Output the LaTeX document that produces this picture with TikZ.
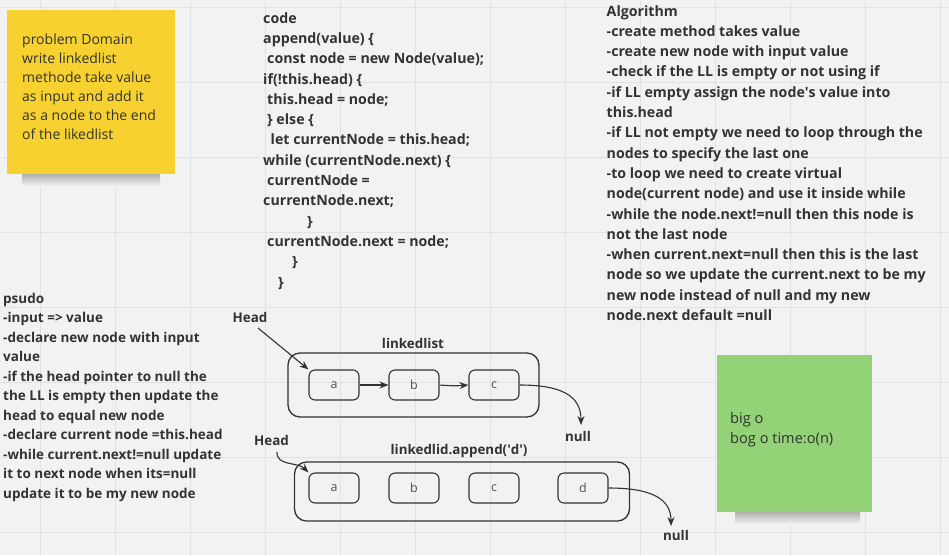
\documentclass[tikz,border=0pt]{standalone}
\usepackage{fontspec}
\setmainfont{Open Sans}
\usetikzlibrary{arrows.meta}
\definecolor{bg}{HTML}{F2F2F2}
\definecolor{gridc}{HTML}{E2E2E2}
\definecolor{ink}{HTML}{333333}
\definecolor{yellowNote}{HTML}{F6D130}
\definecolor{greenNote}{HTML}{93D276}
\newcommand\boldtext{\fontsize{14.2}{20.3}\selectfont\bfseries}
\newcommand\psudotext{\fontsize{13.5}{19.5}\selectfont\bfseries}
\newcommand\notetext{\fontsize{14}{19}\selectfont}
\newcommand\greentext{\fontsize{14.6}{20}\selectfont}
\begin{document}
\begin{tikzpicture}[x=1pt,y=-1pt,
  gridline/.style={draw=gridc,line width=0.8pt},
  txt/.style={text=ink,inner sep=0pt,anchor=base west,align=left},
  lbl/.style={text=ink,inner sep=0pt,font=\fontsize{13.4}{15}\selectfont\bfseries},
  listbox/.style={draw=ink,line width=1.3pt,rounded corners=12pt,minimum width=#1,minimum height=60pt,inner sep=0pt},
  llnode/.style={draw=ink,line width=1.1pt,rounded corners=6pt,minimum width=50pt,minimum height=30pt,inner sep=0pt,text=ink!85,font=\fontsize{12.5}{14}\selectfont},
  arr/.style={draw=ink,line width=1.1pt,-{Stealth[length=9pt,width=7pt]}},
  note/.style={inner sep=0pt,anchor=north west}
]
\useasboundingbox (0,0) rectangle (949,555);
\fill[bg] (0,0) rectangle (949,555);
\foreach \x in {40,115,...,940} \draw[gridline] (\x,0) -- (\x,555);
\foreach \y in {7,82,...,555} \draw[gridline] (0,\y) -- (949,\y);

% yellow sticky note
\shade[top color=black!35,bottom color=bg] (22,172) rectangle (160,186);
\node[note,fill=yellowNote,minimum width=168pt,minimum height=164pt] (pd) at (7,9.5) {};
\node[txt,font=\notetext] (pdtext) at (22,139) {problem Domain\\write linkedlist\\methode take value\\as input and add it\\as a node to the end\\of the likedlist};

% green sticky note
\shade[top color=black!35,bottom color=bg] (735,510) rectangle (860,524);
\node[note,fill=greenNote,minimum width=155pt,minimum height=157pt] (bigo) at (717,355) {};
\node[txt,font=\greentext] (bigotext) at (730,443) {big o\\bog o time:o(n)};

% code
\node[txt,font=\boldtext] (code) at (263,287) {code\\
append(value) \{\\
\hspace*{4pt}const node = new Node(value);\\
if(!this.head) \{\\
\hspace*{4pt}this.head = node;\\
\hspace*{4pt}\} else \{\\
\hspace*{7.5pt}let currentNode = this.head;\\
while (currentNode.next) \{\\
\hspace*{4pt}currentNode =\\
currentNode.next;\\
\hspace*{44pt}\}\\
\hspace*{4pt}currentNode.next = node;\\
\hspace*{29pt}\}\\
\hspace*{15pt}\}};

% algorithm
\node[txt,font=\boldtext] (algo) at (606.5,320.5) {Algorithm\\
-create method takes value\\
-create new node with input value\\
-check if the LL is empty or not using if\\
-if LL empty assign the node\textquotesingle s value into\\
this.head\\
-if LL not empty we need to loop through the\\
nodes to specify the last one\\
-to loop we need to create virtual\\
node(current node) and use it inside while\\
-while the node.next!=null then this node is\\
not the last node\\
-when current.next=null then this is the last\\
node so we update the current.next to be my\\
new node instead of null and my new\\
node.next default =null};

% psudo
\node[txt,font=\psudotext] (psudo) at (3,498) {psudo\\
-input => value\\
-declare new node with input\\
value\\
-if the head pointer to null the\\
the LL is empty then update the\\
head to equal new node\\
-declare current node =this.head\\
-while current.next!=null update\\
it to next node when its=null\\
update it to be my new node};

% first linked list
\node[listbox=251pt,minimum height=64pt] (list1) at (413.5,385) {};
\node[lbl] (list1lbl) at (413,343) {linkedlist};
\node[llnode] (a1) at (334,385) {a};
\node[llnode] (b1) at (414,385) {b};
\node[llnode] (c1) at (494,385) {c};
\node[lbl] (head1) at (250,317) {Head};
\node[lbl] (null1) at (578,436) {null};
\coordinate (head1s) at (258,328);
\coordinate (null1t) at (581,425);
\draw[arr] (head1s) -- (a1.north west);
\draw[arr] (a1) -- (b1);
\draw[arr] (b1.east) .. controls (455,386) .. (c1.west);
\draw[arr] (c1.east) .. controls (560,385) and (581,395) .. (null1t);

% second linked list
\node[listbox=335pt,minimum height=59pt] (list2) at (462,491.5) {};
\node[lbl] (list2lbl) at (459,451.5) {linkedlid.append(\textquotesingle d\textquotesingle)};
\node[llnode] (a2) at (334,488) {a};
\node[llnode] (b2) at (414,488) {b};
\node[llnode] (c2) at (494,488) {c};
\node[llnode] (d2) at (583,488) {d};
\node[lbl] (head2) at (271.5,440.5) {Head};
\node[lbl] (null2) at (676,535.5) {null};
\coordinate (head2s) at (277,452);
\coordinate (null2t) at (671,526);
\draw[arr] (head2s) .. controls (276,466) and (298,462) .. (a2.north west);
\draw[arr] (d2.east) .. controls (648,488) and (671,497) .. (null2t);
\end{tikzpicture}
\end{document}
